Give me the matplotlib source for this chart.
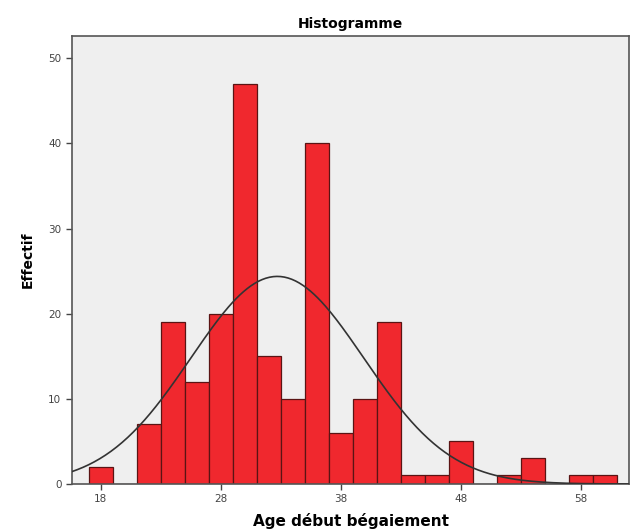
import numpy as np
import matplotlib.pyplot as plt

# bin starts (width 2 years) and counts
bin_left = [17, 19, 21, 23, 25, 27, 29, 31, 33, 35, 37, 39, 41, 43, 45, 47, 49, 51, 53, 55, 57, 59]
counts = [2, 0, 7, 19, 12, 20, 47, 15, 10, 40, 6, 10, 19, 1, 1, 5, 0, 1, 3, 0, 1, 1]
bin_width = 2

# normal curve parameters (estimated)
mean_age = 32.7
sd_age = 7.2

x_ticks = [18, 28, 38, 48, 58]
y_ticks = [0, 10, 20, 30, 40, 50]


def main():
    fig = plt.figure(figsize=(6.3, 5.31), dpi=100)
    ax = fig.add_axes([0.114, 0.0885, 0.885, 0.8435])
    ax.set_facecolor('#efefef')

    ax.bar(bin_left, counts, width=bin_width, align='edge',
           color='#f0282e', edgecolor='#5a1414', linewidth=0.9, zorder=2)

    n = sum(counts)
    xs = np.linspace(15.6, 62, 300)
    ys = n * bin_width / (sd_age * np.sqrt(2 * np.pi)) * np.exp(-0.5 * ((xs - mean_age) / sd_age) ** 2)
    ax.plot(xs, ys, color='#333333', linewidth=1.2, zorder=3)

    ax.set_xlim(15.6, 62)
    ax.set_ylim(0, 52.6)
    ax.set_xticks(x_ticks)
    ax.set_yticks(y_ticks)
    ax.tick_params(labelsize=7.5, labelcolor='#444444', color='#444444',
                   length=4, width=1, direction='out')
    for s in ax.spines.values():
        s.set_color('#555555')
        s.set_linewidth(1.2)

    ax.set_title('Histogramme', fontsize=10, fontweight='bold', pad=6)
    ax.set_xlabel('Age début bégaiement', fontsize=11, fontweight='bold', labelpad=6)
    ax.set_ylabel('Effectif', fontsize=10, fontweight='bold', labelpad=10)

    fig.savefig('out.png', dpi=100)


if __name__ == "__main__":
    main()
